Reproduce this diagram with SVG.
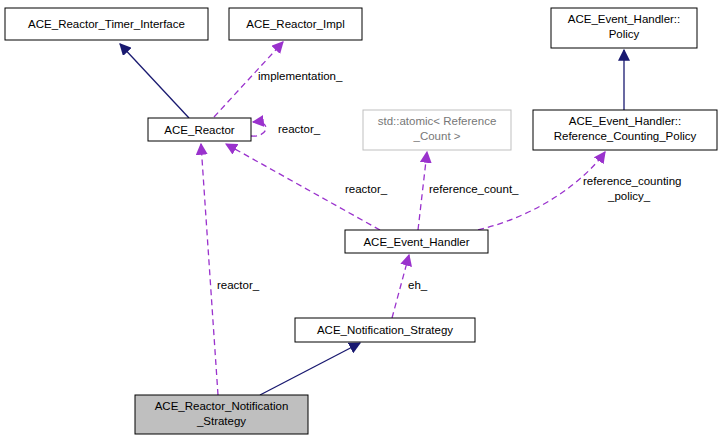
<svg xmlns="http://www.w3.org/2000/svg" width="722" height="440" viewBox="0 0 722 440">
<style>
text{font-family:"Liberation Sans",Arial,sans-serif;font-size:11.5px;fill:#000}
.n{fill:#fff;stroke:#000;stroke-width:1}
.g{fill:#fff;stroke:#bfbfbf}
.inh{fill:none;stroke:#191970;stroke-width:1.3}
.use{fill:none;stroke:#9a32cd;stroke-width:1.3;stroke-dasharray:6,4}
</style>
<defs>
<marker id="ai" viewBox="0 0 10 10" refX="9" refY="5" markerWidth="12" markerHeight="12" markerUnits="userSpaceOnUse" orient="auto"><path d="M0,0L10,5L0,10z" fill="#191970"/></marker>
<marker id="au" viewBox="0 0 10 10" refX="9" refY="5" markerWidth="12" markerHeight="12" markerUnits="userSpaceOnUse" orient="auto"><path d="M0,0L10,5L0,10z" fill="#9a32cd"/></marker>
</defs>
<g id="connectors">
<path class="inh" d="M189,118L120,44" marker-end="url(#ai)"/>
<path class="use" d="M214,117L283,42" marker-end="url(#au)"/>
<text x="258" y="80">implementation_</text>
<path class="use" d="M251,136C268,138 273,120 253,122" marker-end="url(#au)"/>
<text x="278" y="133">reactor_</text>
<path class="inh" d="M624,110L624,50" marker-end="url(#ai)"/>
<path class="use" d="M380,230L226,144" marker-end="url(#au)"/>
<text x="345" y="193">reactor_</text>
<path class="use" d="M418,230L427,152" marker-end="url(#au)"/>
<text x="429" y="193">reference_count_</text>
<path class="use" d="M478,230C540,215 585,180 605,152" marker-end="url(#au)"/>
<text x="583" y="185">reference_counting</text>
<text x="608" y="200">_policy_</text>
<path class="use" d="M392,318L409,255" marker-end="url(#au)"/>
<text x="408" y="289">eh_</text>
<path class="use" d="M218,395L201,144" marker-end="url(#au)"/>
<text x="217" y="289">reactor_</text>
<path class="inh" d="M260,395L360,343" marker-end="url(#ai)"/>
</g>
<g id="timer"><rect class="n" x="5" y="8" width="203" height="32"/><text x="106.5" y="28" text-anchor="middle">ACE_Reactor_Timer_Interface</text></g>
<g id="impl"><rect class="n" x="229" y="8" width="133" height="32"/><text x="295.5" y="28" text-anchor="middle">ACE_Reactor_Impl</text></g>
<g id="policy"><rect class="n" x="551" y="8" width="146" height="40"/><text x="624" y="23" text-anchor="middle">ACE_Event_Handler::</text><text x="624" y="38" text-anchor="middle">Policy</text></g>
<g id="reactor"><rect class="n" x="148" y="118" width="103" height="23"/><text x="199.5" y="134" text-anchor="middle">ACE_Reactor</text></g>
<g id="atomic"><rect class="g" x="363" y="110" width="148" height="40"/><text x="437" y="125" text-anchor="middle" fill="#777" style="fill:#777">std::atomic&lt; Reference</text><text x="437" y="140" text-anchor="middle" style="fill:#777">_Count &gt;</text></g>
<g id="rcp"><rect class="n" x="533" y="110" width="184" height="40"/><text x="625" y="125" text-anchor="middle">ACE_Event_Handler::</text><text x="625" y="140" text-anchor="middle">Reference_Counting_Policy</text></g>
<g id="eh"><rect class="n" x="345" y="230" width="143" height="23"/><text x="416.5" y="246" text-anchor="middle">ACE_Event_Handler</text></g>
<g id="ns"><rect class="n" x="295" y="318" width="180" height="24"/><text x="385" y="334" text-anchor="middle">ACE_Notification_Strategy</text></g>
<g id="rns"><rect x="135" y="395" width="173" height="39" fill="#bfbfbf" stroke="#000"/><text x="221.5" y="410" text-anchor="middle">ACE_Reactor_Notification</text><text x="221.5" y="425" text-anchor="middle">_Strategy</text></g>
</svg>
